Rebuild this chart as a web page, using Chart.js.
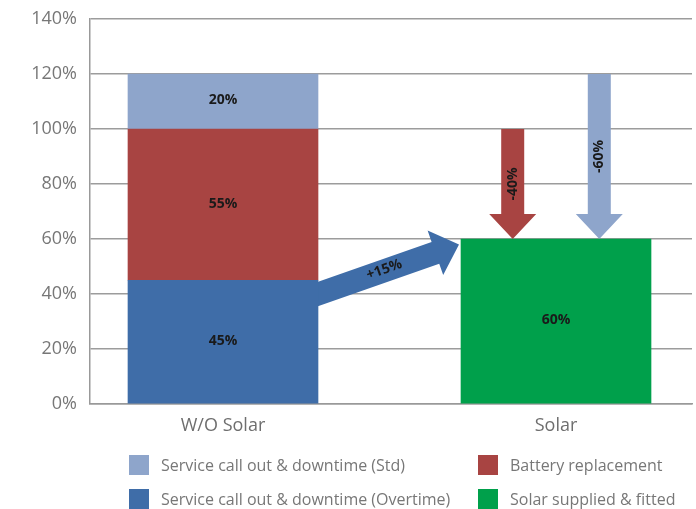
<!DOCTYPE html>
<html>
<head>
<meta charset="utf-8">
<script src="https://cdn.jsdelivr.net/npm/chart.js@4/dist/chart.umd.min.js"></script>
<style>
  html, body { margin: 0; padding: 0; background: #fff; }
  #wrap { position: relative; width: 696px; height: 509px; font-family: 'Open Sans', sans-serif; }
  #wrap canvas { position: absolute; left: 0; top: 0; }
  .legend-item { position: absolute; display: flex; align-items: center; font-size: 16px; color: #777; white-space: nowrap; }
  .legend-box { width: 20px; height: 20px; margin-right: 12px; }
</style>
</head>
<body>
<div id="wrap">
  <canvas id="chart" width="696" height="509"></canvas>
  <div id="legend"></div>
</div>
<script>
'use strict';

// ── Daten ──
const categories = ['W/O Solar', 'Solar'];
const overtime   = [45, null];
const battery    = [55, null];
const standard   = [20, null];
const solar      = [null, 60];

const seriesNames = [
  'Service call out & downtime (Overtime)',
  'Battery replacement',
  'Service call out & downtime (Std)',
  'Solar supplied & fitted',
];
const seriesColors = ['#3F6DA8', '#A84442', '#8EA5CB', '#00A04B'];

const yTicks = [0, 20, 40, 60, 80, 100, 120, 140];

// Pfeile (Werte in %)
const shiftArrow = { from: 40, to: 58, label: '+15%' };
const dropArrows = [
  { offset: -0.13, from: 100, to: 60, label: '-40%', color: seriesColors[1] },
  { offset:  0.13, from: 120, to: 60, label: '-60%', color: seriesColors[2] },
];

const $ = id => document.getElementById(id);

// lineare x-Achse, damit die Balken dort stehen wo im Original
const toPoints = arr => arr.map((v, i) => ({ x: i, y: v })).filter(p => p.y !== null);

const datasets = [overtime, battery, standard, solar].map((arr, i) => ({
  label: seriesNames[i],
  data: toPoints(arr),
  backgroundColor: seriesColors[i],
  borderWidth: 0,
  barThickness: 190,
}));

// ── Pfeil zeichnen ──
function arrowPath(ctx, x1, y1, x2, y2, shaft, head, headLen) {
  const len = Math.hypot(x2 - x1, y2 - y1);
  const ux = (x2 - x1) / len, uy = (y2 - y1) / len;
  const nx = -uy, ny = ux;
  const bx = x2 - ux * headLen, by = y2 - uy * headLen;
  ctx.beginPath();
  ctx.moveTo(x1 + nx * shaft, y1 + ny * shaft);
  ctx.lineTo(bx + nx * shaft, by + ny * shaft);
  ctx.lineTo(bx + nx * head,  by + ny * head);
  ctx.lineTo(x2, y2);
  ctx.lineTo(bx - nx * head,  by - ny * head);
  ctx.lineTo(bx - nx * shaft, by - ny * shaft);
  ctx.lineTo(x1 - nx * shaft, y1 - ny * shaft);
  ctx.closePath();
  ctx.fill();
}

function rotatedText(ctx, text, x, y, angle) {
  ctx.save();
  ctx.translate(x, y);
  ctx.rotate(angle);
  ctx.textAlign = 'center';
  ctx.textBaseline = 'middle';
  ctx.fillText(text, 0, 0);
  ctx.restore();
}

function shiftEnds(chart) {
  const y = chart.scales.y;
  const left  = chart.getDatasetMeta(0).data[0];
  const right = chart.getDatasetMeta(3).data[0];
  if (!left || !right) return null;
  return {
    ex: left.x + left.width / 2,  ey: y.getPixelForValue(shiftArrow.from),
    tx: right.x - right.width / 2 - 2, ty: y.getPixelForValue(shiftArrow.to),
  };
}

const arrowPlugin = {
  id: 'arrows',
  beforeDatasetsDraw(chart) {
    const { ctx, scales: { x, y } } = chart;
    const p = shiftEnds(chart);
    ctx.save();
    if (p) {
      const ang = Math.atan2(p.ty - p.ey, p.tx - p.ex);
      ctx.fillStyle = seriesColors[0];
      arrowPath(ctx, p.ex - Math.cos(ang) * 20, p.ey - Math.sin(ang) * 20, p.tx, p.ty, 11.5, 23.5, 25);
    }
    dropArrows.forEach(a => {
      const px = x.getPixelForValue(1 + a.offset);
      ctx.fillStyle = a.color;
      arrowPath(ctx, px, y.getPixelForValue(a.from), px, y.getPixelForValue(a.to), 11.5, 23.5, 25);
    });
    ctx.restore();
  },
  afterDatasetsDraw(chart) {
    const { ctx, scales: { x, y } } = chart;
    ctx.save();
    ctx.fillStyle = '#1a1a1a';
    ctx.font = "bold 14px 'Open Sans'";

    // Werte in den Balken
    chart.data.datasets.forEach((ds, i) => {
      chart.getDatasetMeta(i).data.forEach((el, j) => {
        rotatedText(ctx, ds.data[j].y + '%', el.x, (el.y + el.base) / 2 - 1, 0);
      });
    });

    const p = shiftEnds(chart);
    if (p) {
      const t = 0.47;
      rotatedText(ctx, shiftArrow.label, p.ex + (p.tx - p.ex) * t, p.ey + (p.ty - p.ey) * t - 1,
        Math.atan2(p.ty - p.ey, p.tx - p.ex));
    }
    dropArrows.forEach(a => {
      const px = x.getPixelForValue(1 + a.offset);
      rotatedText(ctx, a.label, px, y.getPixelForValue((a.from + a.to) / 2), -Math.PI / 2);
    });
    ctx.restore();
  },
};

new Chart($('chart'), {
  type: 'bar',
  data: { datasets },
  plugins: [arrowPlugin],
  options: {
    responsive: false,
    animation: false,
    layout: { padding: { top: 19, right: 4, left: 0, bottom: 0 } },
    plugins: {
      legend: { display: false },
      tooltip: { enabled: false },
    },
    scales: {
      x: {
        type: 'linear',
        offset: false,
        stacked: true,
        min: -0.3994,
        max: 1.4084,
        grid: { display: false },
        border: { display: true, color: '#999', width: 1.5 },
        afterBuildTicks: s => { s.ticks = categories.map((_, i) => ({ value: i })); },
        afterFit: s => { s.height = 105; },
        ticks: {
          autoSkip: false,
          maxRotation: 0,
          padding: 3,
          color: '#6e6e6e',
          font: { family: 'Open Sans', size: 18 },
          callback: v => categories[v],
        },
      },
      y: {
        stacked: true,
        min: 0,
        max: 140,
        afterBuildTicks: s => { s.ticks = yTicks.map(v => ({ value: v })); },
        afterFit: s => { s.width = 90; },
        grid: { color: '#9c9c9c', lineWidth: 1.5, drawTicks: true, tickLength: 9, tickColor: 'rgba(0,0,0,0)' },
        border: { display: true, color: '#999', width: 1.5 },
        ticks: {
          padding: 4,
          color: '#777',
          font: { family: 'Open Sans', size: 18 },
          callback: v => v + '%',
        },
      },
    },
  },
});

// ── Legende ──
const legendOrder = [2, 1, 0, 3];
const legendPos = [[129, 454], [478, 454], [129, 488], [478, 488]];
$('legend').innerHTML = legendOrder.map((idx, k) => `
  <div class="legend-item" style="left:${legendPos[k][0]}px;top:${legendPos[k][1]}px;">
    <div class="legend-box" style="background:${seriesColors[idx]};"></div>${seriesNames[idx].replace(/&/g, '&amp;')}
  </div>
`).join('');
</script>
</body>
</html>
